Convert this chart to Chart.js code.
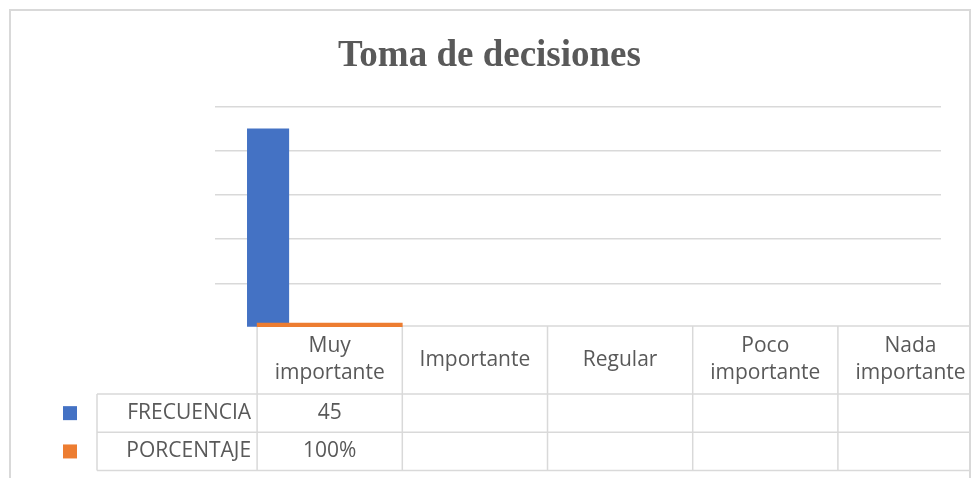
<!DOCTYPE html>
<html>
<head>
<meta charset="utf-8">
<script src="https://cdn.jsdelivr.net/npm/chart.js@4.4.1/dist/chart.umd.min.js"></script>
<style>
  body { margin: 0; background: #fff; }
  canvas { display: block; }
</style>
</head>
<body>
<canvas id="grafico" width="971" height="478"></canvas>
<script>
// datos
const categorias = ['Muy importante', 'Importante', 'Regular', 'Poco importante', 'Nada importante'];
const frecuencia = [45, null, null, null, null];
const porcentaje = [1, null, null, null, null]; // 100%
const nombresSeries = ['FRECUENCIA', 'PORCENTAJE'];
const yMax = 50;
const yPaso = 10;

const azul = '#4472C4';
const naranja = '#ED7D31';
const gris = '#d9d9d9';
const colorTexto = '#595959';
const fuente = "'Open Sans', sans-serif";

function aPuntos(valores) {
    return valores.map((v, i) => ({ x: i, y: v }));
}

// una marca por categoria, asi el ancho de barra sale del paso entre categorias
function ticksCategorias(scale) {
    scale.ticks = categorias.map((c, i) => ({ value: i }));
}

// parte la etiqueta en dos lineas si no cabe en la celda
function partirTexto(ctx, txt, ancho) {
    if (ctx.measureText(txt).width <= ancho) return [txt];
    const i = txt.lastIndexOf(' ');
    return [txt.slice(0, i), txt.slice(i + 1)];
}

// tabla de datos debajo del grafico (estilo Excel)
const tablaDatos = {
    id: 'tablaDatos',
    beforeDatasetsDraw(chart) {
        const ctx = chart.ctx;
        const x2 = chart.scales.x2;
        const y = chart.scales.y;
        const paso = x2.getPixelForValue(1) - x2.getPixelForValue(0);
        const bordeDer = 969;
        const izqEtiquetas = 97;
        const arriba = y.getPixelForValue(0) - 1.5;
        const finEncabezado = arriba + 68;
        const altoFila = 38.3;
        const filas = [
            { nombre: nombresSeries[0], valores: frecuencia, color: azul, fmt: v => String(v) },
            { nombre: nombresSeries[1], valores: porcentaje, color: naranja, fmt: v => Math.round(v * 100) + '%' }
        ];
        const abajo = finEncabezado + altoFila * filas.length;
        const izqCat = x2.getPixelForValue(0) - paso / 2;

        ctx.save();
        // marco exterior del grafico
        ctx.strokeStyle = gris;
        ctx.lineWidth = 2;
        ctx.strokeRect(10, 10, 960, 500);

        // lineas de la tabla
        ctx.lineWidth = 1.5;
        ctx.beginPath();
        ctx.moveTo(izqCat, arriba); ctx.lineTo(bordeDer, arriba);
        for (let r = 0; r <= filas.length; r++) {
            const yy = finEncabezado + altoFila * r;
            ctx.moveTo(izqEtiquetas, yy); ctx.lineTo(bordeDer, yy);
        }
        ctx.moveTo(izqEtiquetas, finEncabezado); ctx.lineTo(izqEtiquetas, abajo);
        categorias.forEach((c, i) => {
            const xx = x2.getPixelForValue(i) - paso / 2;
            ctx.moveTo(xx, arriba); ctx.lineTo(xx, abajo);
        });
        ctx.stroke();

        // encabezados
        ctx.fillStyle = colorTexto;
        ctx.font = '21px ' + fuente;
        ctx.textAlign = 'center';
        ctx.textBaseline = 'middle';
        const medioEnc = (arriba + finEncabezado) / 2;
        categorias.forEach((c, i) => {
            const cx = x2.getPixelForValue(i);
            const lineas = partirTexto(ctx, c, paso - 12);
            lineas.forEach((l, k) => {
                const yy = medioEnc + (k - (lineas.length - 1) / 2) * 27;
                ctx.fillText(l, cx, yy);
            });
        });

        // filas con leyenda
        filas.forEach((f, r) => {
            const cy = finEncabezado + altoFila * (r + 0.5);
            ctx.fillStyle = f.color;
            ctx.fillRect(63, cy - 7, 14, 14);
            ctx.fillStyle = colorTexto;
            ctx.textAlign = 'right';
            ctx.fillText(f.nombre, izqCat - 6, cy);
            ctx.textAlign = 'center';
            f.valores.forEach((v, i) => {
                if (v !== null) ctx.fillText(f.fmt(v), x2.getPixelForValue(i), cy);
            });
        });
        ctx.restore();
    }
};

new Chart(document.getElementById('grafico'), {
    type: 'bar',
    data: {
        datasets: [
            {
                label: nombresSeries[0],
                data: aPuntos(frecuencia),
                backgroundColor: azul,
                xAxisID: 'x',
                grouped: false,
                order: 1,
                barPercentage: 0.29,
                categoryPercentage: 1
            },
            {
                label: nombresSeries[1],
                data: aPuntos(porcentaje),
                backgroundColor: naranja,
                xAxisID: 'x2',
                grouped: false,
                order: 0, // encima de la barra azul
                barPercentage: 1,
                categoryPercentage: 1
            }
        ]
    },
    options: {
        responsive: false,
        devicePixelRatio: 1,
        animation: false,
        layout: { padding: { left: 38, right: 30, top: 0, bottom: 150.5 } },
        plugins: {
            legend: { display: false },
            tooltip: { enabled: false },
            title: {
                display: true,
                text: 'Toma de decisiones',
                color: colorTexto,
                font: { family: "'Liberation Serif', 'Times New Roman', serif", size: 37, weight: 'bold', lineHeight: 1.2 },
                padding: { top: 34, bottom: 28 }
            }
        },
        scales: {
            x: { type: 'linear', display: false, offset: false, min: -0.3655, max: 4.6345, afterBuildTicks: ticksCategorias },
            x2: { type: 'linear', display: false, offset: false, min: -0.79, max: 4.21, afterBuildTicks: ticksCategorias },
            y: {
                min: 0,
                max: yMax,
                afterFit: (scale) => { scale.width = 177; },
                ticks: { display: false, stepSize: yPaso },
                border: { display: false },
                grid: {
                    drawTicks: false,
                    lineWidth: 1.5,
                    color: (c) => c.tick && c.tick.value === 0 ? 'rgba(0,0,0,0)' : gris
                }
            }
        }
    },
    plugins: [tablaDatos]
});
</script>
</body>
</html>
